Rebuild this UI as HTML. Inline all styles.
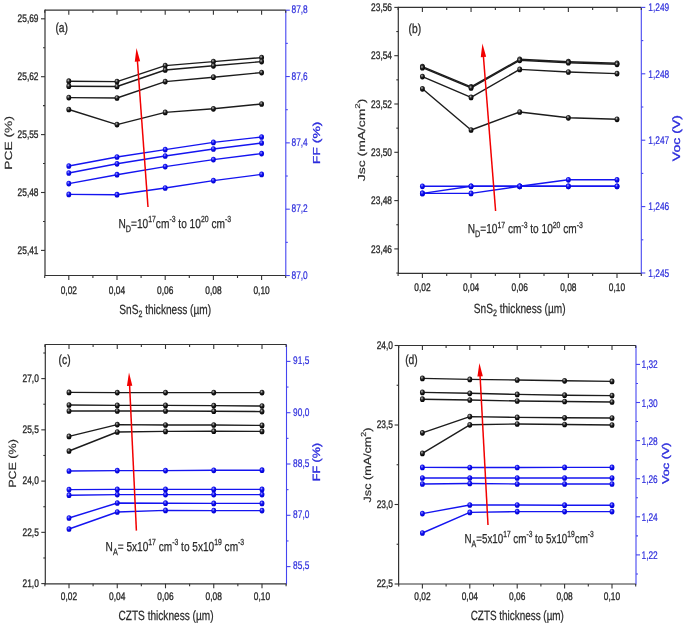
<!DOCTYPE html>
<html><head><meta charset="utf-8"><style>
html,body{margin:0;padding:0;background:#fff;}
svg{display:block;will-change:transform;filter:blur(0.3px);text-rendering:geometricPrecision;font-family:"Liberation Sans",sans-serif;}
</style></head><body>
<svg width="685" height="624" viewBox="0 0 685 624">
<defs>
<radialGradient id="gk" cx="0.4" cy="0.35" r="0.65"><stop offset="0" stop-color="#bbb"/><stop offset="0.45" stop-color="#222"/><stop offset="1" stop-color="#000"/></radialGradient>
<radialGradient id="gb" cx="0.4" cy="0.35" r="0.65"><stop offset="0" stop-color="#9a9aff"/><stop offset="0.45" stop-color="#1010f0"/><stop offset="1" stop-color="#0000d0"/></radialGradient>
</defs>
<rect width="685" height="624" fill="#fff"/>
<line x1="45.00" y1="10.20" x2="285.80" y2="10.20" stroke="#333" stroke-width="1.2"/>
<line x1="45.00" y1="275.50" x2="285.80" y2="275.50" stroke="#333" stroke-width="1.2"/>
<line x1="45.00" y1="9.60" x2="45.00" y2="276.10" stroke="#333" stroke-width="1.2"/>
<line x1="285.80" y1="10.20" x2="285.80" y2="276.10" stroke="#4545f0" stroke-width="1.1"/>
<line x1="68.80" y1="275.50" x2="68.80" y2="280.00" stroke="#333" stroke-width="1.1"/>
<line x1="68.80" y1="10.20" x2="68.80" y2="14.70" stroke="#333" stroke-width="1.1"/>
<line x1="117.00" y1="275.50" x2="117.00" y2="280.00" stroke="#333" stroke-width="1.1"/>
<line x1="117.00" y1="10.20" x2="117.00" y2="14.70" stroke="#333" stroke-width="1.1"/>
<line x1="165.20" y1="275.50" x2="165.20" y2="280.00" stroke="#333" stroke-width="1.1"/>
<line x1="165.20" y1="10.20" x2="165.20" y2="14.70" stroke="#333" stroke-width="1.1"/>
<line x1="213.40" y1="275.50" x2="213.40" y2="280.00" stroke="#333" stroke-width="1.1"/>
<line x1="213.40" y1="10.20" x2="213.40" y2="14.70" stroke="#333" stroke-width="1.1"/>
<line x1="261.60" y1="275.50" x2="261.60" y2="280.00" stroke="#333" stroke-width="1.1"/>
<line x1="261.60" y1="10.20" x2="261.60" y2="14.70" stroke="#333" stroke-width="1.1"/>
<line x1="44.70" y1="275.50" x2="44.70" y2="278.00" stroke="#333" stroke-width="1.1"/>
<line x1="44.70" y1="10.20" x2="44.70" y2="12.70" stroke="#333" stroke-width="1.1"/>
<line x1="92.90" y1="275.50" x2="92.90" y2="278.00" stroke="#333" stroke-width="1.1"/>
<line x1="92.90" y1="10.20" x2="92.90" y2="12.70" stroke="#333" stroke-width="1.1"/>
<line x1="141.10" y1="275.50" x2="141.10" y2="278.00" stroke="#333" stroke-width="1.1"/>
<line x1="141.10" y1="10.20" x2="141.10" y2="12.70" stroke="#333" stroke-width="1.1"/>
<line x1="189.30" y1="275.50" x2="189.30" y2="278.00" stroke="#333" stroke-width="1.1"/>
<line x1="189.30" y1="10.20" x2="189.30" y2="12.70" stroke="#333" stroke-width="1.1"/>
<line x1="237.50" y1="275.50" x2="237.50" y2="278.00" stroke="#333" stroke-width="1.1"/>
<line x1="237.50" y1="10.20" x2="237.50" y2="12.70" stroke="#333" stroke-width="1.1"/>
<line x1="285.70" y1="275.50" x2="285.70" y2="278.00" stroke="#333" stroke-width="1.1"/>
<line x1="285.70" y1="10.20" x2="285.70" y2="12.70" stroke="#333" stroke-width="1.1"/>
<line x1="41.00" y1="18.80" x2="45.00" y2="18.80" stroke="#333" stroke-width="1.1"/>
<text transform="translate(38.50,22.00) scale(0.76,1)" font-size="11" fill="#2a2a2a" text-anchor="end" font-weight="normal" stroke="#2a2a2a" stroke-width="0.35">25,69</text>
<line x1="41.00" y1="76.70" x2="45.00" y2="76.70" stroke="#333" stroke-width="1.1"/>
<text transform="translate(38.50,79.90) scale(0.76,1)" font-size="11" fill="#2a2a2a" text-anchor="end" font-weight="normal" stroke="#2a2a2a" stroke-width="0.35">25,62</text>
<line x1="41.00" y1="134.60" x2="45.00" y2="134.60" stroke="#333" stroke-width="1.1"/>
<text transform="translate(38.50,137.80) scale(0.76,1)" font-size="11" fill="#2a2a2a" text-anchor="end" font-weight="normal" stroke="#2a2a2a" stroke-width="0.35">25,55</text>
<line x1="41.00" y1="192.50" x2="45.00" y2="192.50" stroke="#333" stroke-width="1.1"/>
<text transform="translate(38.50,195.70) scale(0.76,1)" font-size="11" fill="#2a2a2a" text-anchor="end" font-weight="normal" stroke="#2a2a2a" stroke-width="0.35">25,48</text>
<line x1="41.00" y1="250.40" x2="45.00" y2="250.40" stroke="#333" stroke-width="1.1"/>
<text transform="translate(38.50,253.60) scale(0.76,1)" font-size="11" fill="#2a2a2a" text-anchor="end" font-weight="normal" stroke="#2a2a2a" stroke-width="0.35">25,41</text>
<line x1="43.00" y1="47.75" x2="45.00" y2="47.75" stroke="#333" stroke-width="1.1"/>
<line x1="43.00" y1="105.65" x2="45.00" y2="105.65" stroke="#333" stroke-width="1.1"/>
<line x1="43.00" y1="163.55" x2="45.00" y2="163.55" stroke="#333" stroke-width="1.1"/>
<line x1="43.00" y1="221.45" x2="45.00" y2="221.45" stroke="#333" stroke-width="1.1"/>
<line x1="285.80" y1="10.20" x2="289.80" y2="10.20" stroke="#4545f0" stroke-width="1.1"/>
<text transform="translate(291.50,13.40) scale(0.76,1)" font-size="11" fill="#2b2bdc" text-anchor="start" font-weight="normal" stroke="#2b2bdc" stroke-width="0.2">87,8</text>
<line x1="285.80" y1="76.53" x2="289.80" y2="76.53" stroke="#4545f0" stroke-width="1.1"/>
<text transform="translate(291.50,79.73) scale(0.76,1)" font-size="11" fill="#2b2bdc" text-anchor="start" font-weight="normal" stroke="#2b2bdc" stroke-width="0.2">87,6</text>
<line x1="285.80" y1="142.86" x2="289.80" y2="142.86" stroke="#4545f0" stroke-width="1.1"/>
<text transform="translate(291.50,146.06) scale(0.76,1)" font-size="11" fill="#2b2bdc" text-anchor="start" font-weight="normal" stroke="#2b2bdc" stroke-width="0.2">87,4</text>
<line x1="285.80" y1="209.19" x2="289.80" y2="209.19" stroke="#4545f0" stroke-width="1.1"/>
<text transform="translate(291.50,212.39) scale(0.76,1)" font-size="11" fill="#2b2bdc" text-anchor="start" font-weight="normal" stroke="#2b2bdc" stroke-width="0.2">87,2</text>
<line x1="285.80" y1="275.52" x2="289.80" y2="275.52" stroke="#4545f0" stroke-width="1.1"/>
<text transform="translate(291.50,278.72) scale(0.76,1)" font-size="11" fill="#2b2bdc" text-anchor="start" font-weight="normal" stroke="#2b2bdc" stroke-width="0.2">87,0</text>
<line x1="285.80" y1="43.37" x2="287.80" y2="43.37" stroke="#4545f0" stroke-width="1.1"/>
<line x1="285.80" y1="109.69" x2="287.80" y2="109.69" stroke="#4545f0" stroke-width="1.1"/>
<line x1="285.80" y1="176.02" x2="287.80" y2="176.02" stroke="#4545f0" stroke-width="1.1"/>
<line x1="285.80" y1="242.35" x2="287.80" y2="242.35" stroke="#4545f0" stroke-width="1.1"/>
<text transform="translate(68.80,293.70) scale(0.76,1)" font-size="11" fill="#2a2a2a" text-anchor="middle" font-weight="normal" stroke="#2a2a2a" stroke-width="0.35">0,02</text>
<text transform="translate(117.00,293.70) scale(0.76,1)" font-size="11" fill="#2a2a2a" text-anchor="middle" font-weight="normal" stroke="#2a2a2a" stroke-width="0.35">0,04</text>
<text transform="translate(165.20,293.70) scale(0.76,1)" font-size="11" fill="#2a2a2a" text-anchor="middle" font-weight="normal" stroke="#2a2a2a" stroke-width="0.35">0,06</text>
<text transform="translate(213.40,293.70) scale(0.76,1)" font-size="11" fill="#2a2a2a" text-anchor="middle" font-weight="normal" stroke="#2a2a2a" stroke-width="0.35">0,08</text>
<text transform="translate(261.60,293.70) scale(0.76,1)" font-size="11" fill="#2a2a2a" text-anchor="middle" font-weight="normal" stroke="#2a2a2a" stroke-width="0.35">0,10</text>
<text transform="translate(11.80,142.90) scale(0.75,1) rotate(-90)" font-size="13.85" fill="#2a2a2a" text-anchor="middle" font-weight="normal" stroke="#2a2a2a" stroke-width="0.2">PCE (%)</text>
<text transform="translate(319.60,142.90) scale(0.72,1) rotate(-90)" font-size="14.0" fill="#2b2bdc" text-anchor="middle" font-weight="normal" stroke="#2b2bdc" stroke-width="0.4">FF (%)</text>
<text transform="translate(55.40,32.00) scale(0.79,1)" font-size="13" fill="#2a2a2a" text-anchor="start" font-weight="normal" stroke="#2a2a2a" stroke-width="0.3">(a)</text>
<text transform="translate(165.2,314.1) scale(0.76,1)" font-size="13.3" fill="#2a2a2a" stroke="#2a2a2a" stroke-width="0.25" text-anchor="middle">SnS<tspan dy="3" font-size="9.3">2</tspan><tspan dy="-3"> thickness (µm)</tspan></text>
<text transform="translate(118.40,228.20) scale(0.78,1)" font-size="13.0" fill="#2a2a2a" stroke="#2a2a2a" stroke-width="0.25"><tspan dy="0.00" font-size="13.00">N</tspan><tspan dy="3.64" font-size="9.36">D</tspan><tspan dy="-3.64" font-size="13.00">=10</tspan><tspan dy="-5.85" font-size="8.84">17</tspan><tspan dy="5.85" font-size="13.00">cm</tspan><tspan dy="-5.85" font-size="8.84">-3</tspan><tspan dy="5.85" font-size="13.00"> to 10</tspan><tspan dy="-5.85" font-size="8.84">20</tspan><tspan dy="5.85" font-size="13.00"> cm</tspan><tspan dy="-5.85" font-size="8.84">-3</tspan></text>
<polyline points="68.80,81.20 117.00,81.60 165.20,65.60 213.40,61.60 261.60,57.60" fill="none" stroke="#1c1c1c" stroke-width="1.4" stroke-linejoin="round"/>
<ellipse cx="68.80" cy="81.20" rx="2.42" ry="2.85" fill="url(#gk)"/>
<ellipse cx="117.00" cy="81.60" rx="2.42" ry="2.85" fill="url(#gk)"/>
<ellipse cx="165.20" cy="65.60" rx="2.42" ry="2.85" fill="url(#gk)"/>
<ellipse cx="213.40" cy="61.60" rx="2.42" ry="2.85" fill="url(#gk)"/>
<ellipse cx="261.60" cy="57.60" rx="2.42" ry="2.85" fill="url(#gk)"/>
<polyline points="68.80,86.20 117.00,86.50 165.20,70.00 213.40,65.80 261.60,61.60" fill="none" stroke="#1c1c1c" stroke-width="1.4" stroke-linejoin="round"/>
<ellipse cx="68.80" cy="86.20" rx="2.42" ry="2.85" fill="url(#gk)"/>
<ellipse cx="117.00" cy="86.50" rx="2.42" ry="2.85" fill="url(#gk)"/>
<ellipse cx="165.20" cy="70.00" rx="2.42" ry="2.85" fill="url(#gk)"/>
<ellipse cx="213.40" cy="65.80" rx="2.42" ry="2.85" fill="url(#gk)"/>
<ellipse cx="261.60" cy="61.60" rx="2.42" ry="2.85" fill="url(#gk)"/>
<polyline points="68.80,97.60 117.00,98.00 165.20,81.60 213.40,77.20 261.60,72.60" fill="none" stroke="#1c1c1c" stroke-width="1.4" stroke-linejoin="round"/>
<ellipse cx="68.80" cy="97.60" rx="2.42" ry="2.85" fill="url(#gk)"/>
<ellipse cx="117.00" cy="98.00" rx="2.42" ry="2.85" fill="url(#gk)"/>
<ellipse cx="165.20" cy="81.60" rx="2.42" ry="2.85" fill="url(#gk)"/>
<ellipse cx="213.40" cy="77.20" rx="2.42" ry="2.85" fill="url(#gk)"/>
<ellipse cx="261.60" cy="72.60" rx="2.42" ry="2.85" fill="url(#gk)"/>
<polyline points="68.80,109.50 117.00,124.60 165.20,112.40 213.40,108.80 261.60,104.00" fill="none" stroke="#1c1c1c" stroke-width="1.4" stroke-linejoin="round"/>
<ellipse cx="68.80" cy="109.50" rx="2.42" ry="2.85" fill="url(#gk)"/>
<ellipse cx="117.00" cy="124.60" rx="2.42" ry="2.85" fill="url(#gk)"/>
<ellipse cx="165.20" cy="112.40" rx="2.42" ry="2.85" fill="url(#gk)"/>
<ellipse cx="213.40" cy="108.80" rx="2.42" ry="2.85" fill="url(#gk)"/>
<ellipse cx="261.60" cy="104.00" rx="2.42" ry="2.85" fill="url(#gk)"/>
<polyline points="68.80,166.00 117.00,157.00 165.20,149.60 213.40,142.40 261.60,137.00" fill="none" stroke="#1414f0" stroke-width="1.4" stroke-linejoin="round"/>
<ellipse cx="68.80" cy="166.00" rx="2.42" ry="2.85" fill="url(#gb)"/>
<ellipse cx="117.00" cy="157.00" rx="2.42" ry="2.85" fill="url(#gb)"/>
<ellipse cx="165.20" cy="149.60" rx="2.42" ry="2.85" fill="url(#gb)"/>
<ellipse cx="213.40" cy="142.40" rx="2.42" ry="2.85" fill="url(#gb)"/>
<ellipse cx="261.60" cy="137.00" rx="2.42" ry="2.85" fill="url(#gb)"/>
<polyline points="68.80,173.00 117.00,163.80 165.20,156.00 213.40,149.00 261.60,143.00" fill="none" stroke="#1414f0" stroke-width="1.4" stroke-linejoin="round"/>
<ellipse cx="68.80" cy="173.00" rx="2.42" ry="2.85" fill="url(#gb)"/>
<ellipse cx="117.00" cy="163.80" rx="2.42" ry="2.85" fill="url(#gb)"/>
<ellipse cx="165.20" cy="156.00" rx="2.42" ry="2.85" fill="url(#gb)"/>
<ellipse cx="213.40" cy="149.00" rx="2.42" ry="2.85" fill="url(#gb)"/>
<ellipse cx="261.60" cy="143.00" rx="2.42" ry="2.85" fill="url(#gb)"/>
<polyline points="68.80,183.60 117.00,174.70 165.20,166.60 213.40,159.60 261.60,153.60" fill="none" stroke="#1414f0" stroke-width="1.4" stroke-linejoin="round"/>
<ellipse cx="68.80" cy="183.60" rx="2.42" ry="2.85" fill="url(#gb)"/>
<ellipse cx="117.00" cy="174.70" rx="2.42" ry="2.85" fill="url(#gb)"/>
<ellipse cx="165.20" cy="166.60" rx="2.42" ry="2.85" fill="url(#gb)"/>
<ellipse cx="213.40" cy="159.60" rx="2.42" ry="2.85" fill="url(#gb)"/>
<ellipse cx="261.60" cy="153.60" rx="2.42" ry="2.85" fill="url(#gb)"/>
<polyline points="68.80,194.40 117.00,194.70 165.20,188.00 213.40,180.60 261.60,174.40" fill="none" stroke="#1414f0" stroke-width="1.4" stroke-linejoin="round"/>
<ellipse cx="68.80" cy="194.40" rx="2.42" ry="2.85" fill="url(#gb)"/>
<ellipse cx="117.00" cy="194.70" rx="2.42" ry="2.85" fill="url(#gb)"/>
<ellipse cx="165.20" cy="188.00" rx="2.42" ry="2.85" fill="url(#gb)"/>
<ellipse cx="213.40" cy="180.60" rx="2.42" ry="2.85" fill="url(#gb)"/>
<ellipse cx="261.60" cy="174.40" rx="2.42" ry="2.85" fill="url(#gb)"/>
<line x1="148.00" y1="207.00" x2="137.40" y2="60.57" stroke="#f20000" stroke-width="1.5"/>
<polygon points="136.50,48.10 140.17,61.37 134.78,61.76" fill="#f20000"/>
<line x1="398.30" y1="7.40" x2="641.30" y2="7.40" stroke="#333" stroke-width="1.2"/>
<line x1="398.30" y1="273.40" x2="641.30" y2="273.40" stroke="#333" stroke-width="1.2"/>
<line x1="398.30" y1="6.80" x2="398.30" y2="274.00" stroke="#333" stroke-width="1.2"/>
<line x1="641.30" y1="7.40" x2="641.30" y2="274.00" stroke="#4545f0" stroke-width="1.1"/>
<line x1="422.40" y1="273.40" x2="422.40" y2="277.90" stroke="#333" stroke-width="1.1"/>
<line x1="422.40" y1="7.40" x2="422.40" y2="11.90" stroke="#333" stroke-width="1.1"/>
<line x1="471.05" y1="273.40" x2="471.05" y2="277.90" stroke="#333" stroke-width="1.1"/>
<line x1="471.05" y1="7.40" x2="471.05" y2="11.90" stroke="#333" stroke-width="1.1"/>
<line x1="519.70" y1="273.40" x2="519.70" y2="277.90" stroke="#333" stroke-width="1.1"/>
<line x1="519.70" y1="7.40" x2="519.70" y2="11.90" stroke="#333" stroke-width="1.1"/>
<line x1="568.35" y1="273.40" x2="568.35" y2="277.90" stroke="#333" stroke-width="1.1"/>
<line x1="568.35" y1="7.40" x2="568.35" y2="11.90" stroke="#333" stroke-width="1.1"/>
<line x1="617.00" y1="273.40" x2="617.00" y2="277.90" stroke="#333" stroke-width="1.1"/>
<line x1="617.00" y1="7.40" x2="617.00" y2="11.90" stroke="#333" stroke-width="1.1"/>
<line x1="398.10" y1="273.40" x2="398.10" y2="275.90" stroke="#333" stroke-width="1.1"/>
<line x1="398.10" y1="7.40" x2="398.10" y2="9.90" stroke="#333" stroke-width="1.1"/>
<line x1="446.70" y1="273.40" x2="446.70" y2="275.90" stroke="#333" stroke-width="1.1"/>
<line x1="446.70" y1="7.40" x2="446.70" y2="9.90" stroke="#333" stroke-width="1.1"/>
<line x1="495.35" y1="273.40" x2="495.35" y2="275.90" stroke="#333" stroke-width="1.1"/>
<line x1="495.35" y1="7.40" x2="495.35" y2="9.90" stroke="#333" stroke-width="1.1"/>
<line x1="544.00" y1="273.40" x2="544.00" y2="275.90" stroke="#333" stroke-width="1.1"/>
<line x1="544.00" y1="7.40" x2="544.00" y2="9.90" stroke="#333" stroke-width="1.1"/>
<line x1="592.65" y1="273.40" x2="592.65" y2="275.90" stroke="#333" stroke-width="1.1"/>
<line x1="592.65" y1="7.40" x2="592.65" y2="9.90" stroke="#333" stroke-width="1.1"/>
<line x1="641.30" y1="273.40" x2="641.30" y2="275.90" stroke="#333" stroke-width="1.1"/>
<line x1="641.30" y1="7.40" x2="641.30" y2="9.90" stroke="#333" stroke-width="1.1"/>
<line x1="394.30" y1="7.40" x2="398.30" y2="7.40" stroke="#333" stroke-width="1.1"/>
<text transform="translate(392.00,11.10) scale(0.76,1)" font-size="11" fill="#2a2a2a" text-anchor="end" font-weight="normal" stroke="#2a2a2a" stroke-width="0.35">23,56</text>
<line x1="394.30" y1="55.70" x2="398.30" y2="55.70" stroke="#333" stroke-width="1.1"/>
<text transform="translate(392.00,59.40) scale(0.76,1)" font-size="11" fill="#2a2a2a" text-anchor="end" font-weight="normal" stroke="#2a2a2a" stroke-width="0.35">23,54</text>
<line x1="394.30" y1="104.00" x2="398.30" y2="104.00" stroke="#333" stroke-width="1.1"/>
<text transform="translate(392.00,107.70) scale(0.76,1)" font-size="11" fill="#2a2a2a" text-anchor="end" font-weight="normal" stroke="#2a2a2a" stroke-width="0.35">23,52</text>
<line x1="394.30" y1="152.30" x2="398.30" y2="152.30" stroke="#333" stroke-width="1.1"/>
<text transform="translate(392.00,156.00) scale(0.76,1)" font-size="11" fill="#2a2a2a" text-anchor="end" font-weight="normal" stroke="#2a2a2a" stroke-width="0.35">23,50</text>
<line x1="394.30" y1="200.60" x2="398.30" y2="200.60" stroke="#333" stroke-width="1.1"/>
<text transform="translate(392.00,204.30) scale(0.76,1)" font-size="11" fill="#2a2a2a" text-anchor="end" font-weight="normal" stroke="#2a2a2a" stroke-width="0.35">23,48</text>
<line x1="394.30" y1="248.90" x2="398.30" y2="248.90" stroke="#333" stroke-width="1.1"/>
<text transform="translate(392.00,252.60) scale(0.76,1)" font-size="11" fill="#2a2a2a" text-anchor="end" font-weight="normal" stroke="#2a2a2a" stroke-width="0.35">23,46</text>
<line x1="396.30" y1="31.55" x2="398.30" y2="31.55" stroke="#333" stroke-width="1.1"/>
<line x1="396.30" y1="79.85" x2="398.30" y2="79.85" stroke="#333" stroke-width="1.1"/>
<line x1="396.30" y1="128.15" x2="398.30" y2="128.15" stroke="#333" stroke-width="1.1"/>
<line x1="396.30" y1="176.45" x2="398.30" y2="176.45" stroke="#333" stroke-width="1.1"/>
<line x1="396.30" y1="224.75" x2="398.30" y2="224.75" stroke="#333" stroke-width="1.1"/>
<line x1="396.30" y1="273.05" x2="398.30" y2="273.05" stroke="#333" stroke-width="1.1"/>
<line x1="641.30" y1="7.40" x2="645.30" y2="7.40" stroke="#4545f0" stroke-width="1.1"/>
<text transform="translate(648.30,11.10) scale(0.76,1)" font-size="11" fill="#2b2bdc" text-anchor="start" font-weight="normal" stroke="#2b2bdc" stroke-width="0.2">1,249</text>
<line x1="641.30" y1="73.80" x2="645.30" y2="73.80" stroke="#4545f0" stroke-width="1.1"/>
<text transform="translate(648.30,77.50) scale(0.76,1)" font-size="11" fill="#2b2bdc" text-anchor="start" font-weight="normal" stroke="#2b2bdc" stroke-width="0.2">1,248</text>
<line x1="641.30" y1="140.20" x2="645.30" y2="140.20" stroke="#4545f0" stroke-width="1.1"/>
<text transform="translate(648.30,143.90) scale(0.76,1)" font-size="11" fill="#2b2bdc" text-anchor="start" font-weight="normal" stroke="#2b2bdc" stroke-width="0.2">1,247</text>
<line x1="641.30" y1="206.60" x2="645.30" y2="206.60" stroke="#4545f0" stroke-width="1.1"/>
<text transform="translate(648.30,210.30) scale(0.76,1)" font-size="11" fill="#2b2bdc" text-anchor="start" font-weight="normal" stroke="#2b2bdc" stroke-width="0.2">1,246</text>
<line x1="641.30" y1="273.00" x2="645.30" y2="273.00" stroke="#4545f0" stroke-width="1.1"/>
<text transform="translate(648.30,276.70) scale(0.76,1)" font-size="11" fill="#2b2bdc" text-anchor="start" font-weight="normal" stroke="#2b2bdc" stroke-width="0.2">1,245</text>
<line x1="641.30" y1="40.60" x2="643.30" y2="40.60" stroke="#4545f0" stroke-width="1.1"/>
<line x1="641.30" y1="107.00" x2="643.30" y2="107.00" stroke="#4545f0" stroke-width="1.1"/>
<line x1="641.30" y1="173.40" x2="643.30" y2="173.40" stroke="#4545f0" stroke-width="1.1"/>
<line x1="641.30" y1="239.80" x2="643.30" y2="239.80" stroke="#4545f0" stroke-width="1.1"/>
<text transform="translate(422.40,291.00) scale(0.76,1)" font-size="11" fill="#2a2a2a" text-anchor="middle" font-weight="normal" stroke="#2a2a2a" stroke-width="0.35">0,02</text>
<text transform="translate(471.05,291.00) scale(0.76,1)" font-size="11" fill="#2a2a2a" text-anchor="middle" font-weight="normal" stroke="#2a2a2a" stroke-width="0.35">0,04</text>
<text transform="translate(519.70,291.00) scale(0.76,1)" font-size="11" fill="#2a2a2a" text-anchor="middle" font-weight="normal" stroke="#2a2a2a" stroke-width="0.35">0,06</text>
<text transform="translate(568.35,291.00) scale(0.76,1)" font-size="11" fill="#2a2a2a" text-anchor="middle" font-weight="normal" stroke="#2a2a2a" stroke-width="0.35">0,08</text>
<text transform="translate(617.00,291.00) scale(0.76,1)" font-size="11" fill="#2a2a2a" text-anchor="middle" font-weight="normal" stroke="#2a2a2a" stroke-width="0.35">0,10</text>
<text transform="translate(365.10,139.90) scale(0.73,1) rotate(-90)" font-size="13.9" fill="#2a2a2a" text-anchor="middle" font-weight="normal" stroke="#2a2a2a" stroke-width="0.2">Jsc (mA/cm<tspan dy="-7.0" font-size="9.7">2</tspan><tspan dy="7.0">)</tspan></text>
<text transform="translate(680.20,138.10) scale(0.76,1) rotate(-90)" font-size="14.1" fill="#2b2bdc" text-anchor="middle" font-weight="normal" stroke="#2b2bdc" stroke-width="0.4">Voc (V)</text>
<text transform="translate(408.60,33.20) scale(0.79,1)" font-size="13" fill="#2a2a2a" text-anchor="start" font-weight="normal" stroke="#2a2a2a" stroke-width="0.3">(b)</text>
<text transform="translate(519.7,313.0) scale(0.76,1)" font-size="13.3" fill="#2a2a2a" stroke="#2a2a2a" stroke-width="0.25" text-anchor="middle">SnS<tspan dy="3" font-size="9.3">2</tspan><tspan dy="-3"> thickness (µm)</tspan></text>
<text transform="translate(467.80,233.40) scale(0.777,1)" font-size="13.0" fill="#2a2a2a" stroke="#2a2a2a" stroke-width="0.25"><tspan dy="0.00" font-size="13.00">N</tspan><tspan dy="3.64" font-size="9.36">D</tspan><tspan dy="-3.64" font-size="13.00">=10</tspan><tspan dy="-5.85" font-size="8.84">17</tspan><tspan dy="5.85" font-size="13.00"> cm</tspan><tspan dy="-5.85" font-size="8.84">-3</tspan><tspan dy="5.85" font-size="13.00"> to 10</tspan><tspan dy="-5.85" font-size="8.84">20</tspan><tspan dy="5.85" font-size="13.00"> cm</tspan><tspan dy="-5.85" font-size="8.84">-3</tspan></text>
<polyline points="422.40,66.70 471.05,86.90 519.70,59.30 568.35,61.70 617.00,63.30" fill="none" stroke="#1c1c1c" stroke-width="1.4" stroke-linejoin="round"/>
<ellipse cx="422.40" cy="66.70" rx="2.42" ry="2.85" fill="url(#gk)"/>
<ellipse cx="471.05" cy="86.90" rx="2.42" ry="2.85" fill="url(#gk)"/>
<ellipse cx="519.70" cy="59.30" rx="2.42" ry="2.85" fill="url(#gk)"/>
<ellipse cx="568.35" cy="61.70" rx="2.42" ry="2.85" fill="url(#gk)"/>
<ellipse cx="617.00" cy="63.30" rx="2.42" ry="2.85" fill="url(#gk)"/>
<polyline points="422.40,67.70 471.05,87.90 519.70,60.30 568.35,62.70 617.00,64.30" fill="none" stroke="#1c1c1c" stroke-width="1.4" stroke-linejoin="round"/>
<ellipse cx="422.40" cy="67.70" rx="2.42" ry="2.85" fill="url(#gk)"/>
<ellipse cx="471.05" cy="87.90" rx="2.42" ry="2.85" fill="url(#gk)"/>
<ellipse cx="519.70" cy="60.30" rx="2.42" ry="2.85" fill="url(#gk)"/>
<ellipse cx="568.35" cy="62.70" rx="2.42" ry="2.85" fill="url(#gk)"/>
<ellipse cx="617.00" cy="64.30" rx="2.42" ry="2.85" fill="url(#gk)"/>
<polyline points="422.40,76.60 471.05,97.40 519.70,69.40 568.35,72.00 617.00,73.60" fill="none" stroke="#1c1c1c" stroke-width="1.4" stroke-linejoin="round"/>
<ellipse cx="422.40" cy="76.60" rx="2.42" ry="2.85" fill="url(#gk)"/>
<ellipse cx="471.05" cy="97.40" rx="2.42" ry="2.85" fill="url(#gk)"/>
<ellipse cx="519.70" cy="69.40" rx="2.42" ry="2.85" fill="url(#gk)"/>
<ellipse cx="568.35" cy="72.00" rx="2.42" ry="2.85" fill="url(#gk)"/>
<ellipse cx="617.00" cy="73.60" rx="2.42" ry="2.85" fill="url(#gk)"/>
<polyline points="422.40,88.80 471.05,130.00 519.70,112.00 568.35,117.80 617.00,119.30" fill="none" stroke="#1c1c1c" stroke-width="1.4" stroke-linejoin="round"/>
<ellipse cx="422.40" cy="88.80" rx="2.42" ry="2.85" fill="url(#gk)"/>
<ellipse cx="471.05" cy="130.00" rx="2.42" ry="2.85" fill="url(#gk)"/>
<ellipse cx="519.70" cy="112.00" rx="2.42" ry="2.85" fill="url(#gk)"/>
<ellipse cx="568.35" cy="117.80" rx="2.42" ry="2.85" fill="url(#gk)"/>
<ellipse cx="617.00" cy="119.30" rx="2.42" ry="2.85" fill="url(#gk)"/>
<polyline points="422.40,186.30 471.05,186.30 519.70,186.30 568.35,186.30 617.00,186.30" fill="none" stroke="#1414f0" stroke-width="1.4" stroke-linejoin="round"/>
<ellipse cx="422.40" cy="186.30" rx="2.42" ry="2.85" fill="url(#gb)"/>
<ellipse cx="471.05" cy="186.30" rx="2.42" ry="2.85" fill="url(#gb)"/>
<ellipse cx="519.70" cy="186.30" rx="2.42" ry="2.85" fill="url(#gb)"/>
<ellipse cx="568.35" cy="186.30" rx="2.42" ry="2.85" fill="url(#gb)"/>
<ellipse cx="617.00" cy="186.30" rx="2.42" ry="2.85" fill="url(#gb)"/>
<polyline points="422.40,193.40 471.05,186.30 519.70,186.30 568.35,186.30 617.00,186.30" fill="none" stroke="#1414f0" stroke-width="1.4" stroke-linejoin="round"/>
<ellipse cx="422.40" cy="193.40" rx="2.42" ry="2.85" fill="url(#gb)"/>
<ellipse cx="471.05" cy="186.30" rx="2.42" ry="2.85" fill="url(#gb)"/>
<ellipse cx="519.70" cy="186.30" rx="2.42" ry="2.85" fill="url(#gb)"/>
<ellipse cx="568.35" cy="186.30" rx="2.42" ry="2.85" fill="url(#gb)"/>
<ellipse cx="617.00" cy="186.30" rx="2.42" ry="2.85" fill="url(#gb)"/>
<polyline points="422.40,193.40 471.05,193.40 519.70,186.30 568.35,179.80 617.00,179.80" fill="none" stroke="#1414f0" stroke-width="1.4" stroke-linejoin="round"/>
<ellipse cx="422.40" cy="193.40" rx="2.42" ry="2.85" fill="url(#gb)"/>
<ellipse cx="471.05" cy="193.40" rx="2.42" ry="2.85" fill="url(#gb)"/>
<ellipse cx="519.70" cy="186.30" rx="2.42" ry="2.85" fill="url(#gb)"/>
<ellipse cx="568.35" cy="179.80" rx="2.42" ry="2.85" fill="url(#gb)"/>
<ellipse cx="617.00" cy="179.80" rx="2.42" ry="2.85" fill="url(#gb)"/>
<line x1="495.60" y1="211.00" x2="483.38" y2="56.06" stroke="#f20000" stroke-width="1.5"/>
<polygon points="482.40,43.60 486.15,56.85 480.77,57.27" fill="#f20000"/>
<line x1="45.30" y1="344.50" x2="286.50" y2="344.50" stroke="#333" stroke-width="1.2"/>
<line x1="45.30" y1="583.80" x2="286.50" y2="583.80" stroke="#333" stroke-width="1.2"/>
<line x1="45.30" y1="343.90" x2="45.30" y2="584.40" stroke="#333" stroke-width="1.2"/>
<line x1="286.50" y1="344.50" x2="286.50" y2="584.40" stroke="#4545f0" stroke-width="1.1"/>
<line x1="69.00" y1="583.80" x2="69.00" y2="588.30" stroke="#333" stroke-width="1.1"/>
<line x1="69.00" y1="344.50" x2="69.00" y2="349.00" stroke="#333" stroke-width="1.1"/>
<line x1="117.25" y1="583.80" x2="117.25" y2="588.30" stroke="#333" stroke-width="1.1"/>
<line x1="117.25" y1="344.50" x2="117.25" y2="349.00" stroke="#333" stroke-width="1.1"/>
<line x1="165.50" y1="583.80" x2="165.50" y2="588.30" stroke="#333" stroke-width="1.1"/>
<line x1="165.50" y1="344.50" x2="165.50" y2="349.00" stroke="#333" stroke-width="1.1"/>
<line x1="213.75" y1="583.80" x2="213.75" y2="588.30" stroke="#333" stroke-width="1.1"/>
<line x1="213.75" y1="344.50" x2="213.75" y2="349.00" stroke="#333" stroke-width="1.1"/>
<line x1="262.00" y1="583.80" x2="262.00" y2="588.30" stroke="#333" stroke-width="1.1"/>
<line x1="262.00" y1="344.50" x2="262.00" y2="349.00" stroke="#333" stroke-width="1.1"/>
<line x1="44.90" y1="583.80" x2="44.90" y2="586.30" stroke="#333" stroke-width="1.1"/>
<line x1="44.90" y1="344.50" x2="44.90" y2="347.00" stroke="#333" stroke-width="1.1"/>
<line x1="93.10" y1="583.80" x2="93.10" y2="586.30" stroke="#333" stroke-width="1.1"/>
<line x1="93.10" y1="344.50" x2="93.10" y2="347.00" stroke="#333" stroke-width="1.1"/>
<line x1="141.35" y1="583.80" x2="141.35" y2="586.30" stroke="#333" stroke-width="1.1"/>
<line x1="141.35" y1="344.50" x2="141.35" y2="347.00" stroke="#333" stroke-width="1.1"/>
<line x1="189.60" y1="583.80" x2="189.60" y2="586.30" stroke="#333" stroke-width="1.1"/>
<line x1="189.60" y1="344.50" x2="189.60" y2="347.00" stroke="#333" stroke-width="1.1"/>
<line x1="237.85" y1="583.80" x2="237.85" y2="586.30" stroke="#333" stroke-width="1.1"/>
<line x1="237.85" y1="344.50" x2="237.85" y2="347.00" stroke="#333" stroke-width="1.1"/>
<line x1="286.10" y1="583.80" x2="286.10" y2="586.30" stroke="#333" stroke-width="1.1"/>
<line x1="286.10" y1="344.50" x2="286.10" y2="347.00" stroke="#333" stroke-width="1.1"/>
<line x1="41.30" y1="378.60" x2="45.30" y2="378.60" stroke="#333" stroke-width="1.1"/>
<text transform="translate(38.80,381.80) scale(0.76,1)" font-size="11" fill="#2a2a2a" text-anchor="end" font-weight="normal" stroke="#2a2a2a" stroke-width="0.35">27,0</text>
<line x1="41.30" y1="429.85" x2="45.30" y2="429.85" stroke="#333" stroke-width="1.1"/>
<text transform="translate(38.80,433.05) scale(0.76,1)" font-size="11" fill="#2a2a2a" text-anchor="end" font-weight="normal" stroke="#2a2a2a" stroke-width="0.35">25,5</text>
<line x1="41.30" y1="481.10" x2="45.30" y2="481.10" stroke="#333" stroke-width="1.1"/>
<text transform="translate(38.80,484.30) scale(0.76,1)" font-size="11" fill="#2a2a2a" text-anchor="end" font-weight="normal" stroke="#2a2a2a" stroke-width="0.35">24,0</text>
<line x1="41.30" y1="532.35" x2="45.30" y2="532.35" stroke="#333" stroke-width="1.1"/>
<text transform="translate(38.80,535.55) scale(0.76,1)" font-size="11" fill="#2a2a2a" text-anchor="end" font-weight="normal" stroke="#2a2a2a" stroke-width="0.35">22,5</text>
<line x1="41.30" y1="583.60" x2="45.30" y2="583.60" stroke="#333" stroke-width="1.1"/>
<text transform="translate(38.80,586.80) scale(0.76,1)" font-size="11" fill="#2a2a2a" text-anchor="end" font-weight="normal" stroke="#2a2a2a" stroke-width="0.35">21,0</text>
<line x1="43.30" y1="353.00" x2="45.30" y2="353.00" stroke="#333" stroke-width="1.1"/>
<line x1="43.30" y1="404.23" x2="45.30" y2="404.23" stroke="#333" stroke-width="1.1"/>
<line x1="43.30" y1="455.48" x2="45.30" y2="455.48" stroke="#333" stroke-width="1.1"/>
<line x1="43.30" y1="506.73" x2="45.30" y2="506.73" stroke="#333" stroke-width="1.1"/>
<line x1="43.30" y1="557.98" x2="45.30" y2="557.98" stroke="#333" stroke-width="1.1"/>
<line x1="286.50" y1="361.40" x2="290.50" y2="361.40" stroke="#4545f0" stroke-width="1.1"/>
<text transform="translate(293.10,364.20) scale(0.76,1)" font-size="11" fill="#2b2bdc" text-anchor="start" font-weight="normal" stroke="#2b2bdc" stroke-width="0.2">91,5</text>
<line x1="286.50" y1="412.70" x2="290.50" y2="412.70" stroke="#4545f0" stroke-width="1.1"/>
<text transform="translate(293.10,415.50) scale(0.76,1)" font-size="11" fill="#2b2bdc" text-anchor="start" font-weight="normal" stroke="#2b2bdc" stroke-width="0.2">90,0</text>
<line x1="286.50" y1="464.00" x2="290.50" y2="464.00" stroke="#4545f0" stroke-width="1.1"/>
<text transform="translate(293.10,466.80) scale(0.76,1)" font-size="11" fill="#2b2bdc" text-anchor="start" font-weight="normal" stroke="#2b2bdc" stroke-width="0.2">88,5</text>
<line x1="286.50" y1="515.30" x2="290.50" y2="515.30" stroke="#4545f0" stroke-width="1.1"/>
<text transform="translate(293.10,518.10) scale(0.76,1)" font-size="11" fill="#2b2bdc" text-anchor="start" font-weight="normal" stroke="#2b2bdc" stroke-width="0.2">87,0</text>
<line x1="286.50" y1="566.60" x2="290.50" y2="566.60" stroke="#4545f0" stroke-width="1.1"/>
<text transform="translate(293.10,569.40) scale(0.76,1)" font-size="11" fill="#2b2bdc" text-anchor="start" font-weight="normal" stroke="#2b2bdc" stroke-width="0.2">85,5</text>
<line x1="286.50" y1="387.05" x2="288.50" y2="387.05" stroke="#4545f0" stroke-width="1.1"/>
<line x1="286.50" y1="438.35" x2="288.50" y2="438.35" stroke="#4545f0" stroke-width="1.1"/>
<line x1="286.50" y1="489.65" x2="288.50" y2="489.65" stroke="#4545f0" stroke-width="1.1"/>
<line x1="286.50" y1="540.95" x2="288.50" y2="540.95" stroke="#4545f0" stroke-width="1.1"/>
<text transform="translate(69.00,600.10) scale(0.76,1)" font-size="11" fill="#2a2a2a" text-anchor="middle" font-weight="normal" stroke="#2a2a2a" stroke-width="0.35">0,02</text>
<text transform="translate(117.25,600.10) scale(0.76,1)" font-size="11" fill="#2a2a2a" text-anchor="middle" font-weight="normal" stroke="#2a2a2a" stroke-width="0.35">0,04</text>
<text transform="translate(165.50,600.10) scale(0.76,1)" font-size="11" fill="#2a2a2a" text-anchor="middle" font-weight="normal" stroke="#2a2a2a" stroke-width="0.35">0,06</text>
<text transform="translate(213.75,600.10) scale(0.76,1)" font-size="11" fill="#2a2a2a" text-anchor="middle" font-weight="normal" stroke="#2a2a2a" stroke-width="0.35">0,08</text>
<text transform="translate(262.00,600.10) scale(0.76,1)" font-size="11" fill="#2a2a2a" text-anchor="middle" font-weight="normal" stroke="#2a2a2a" stroke-width="0.35">0,10</text>
<text transform="translate(16.00,463.50) scale(0.83,1) rotate(-90)" font-size="12.5" fill="#2a2a2a" text-anchor="middle" font-weight="normal" stroke="#2a2a2a" stroke-width="0.2">PCE (%)</text>
<text transform="translate(319.70,462.10) scale(0.84,1) rotate(-90)" font-size="12.55" fill="#2b2bdc" text-anchor="middle" font-weight="normal" stroke="#2b2bdc" stroke-width="0.4">FF (%)</text>
<text transform="translate(58.60,363.60) scale(0.79,1)" font-size="13" fill="#2a2a2a" text-anchor="start" font-weight="normal" stroke="#2a2a2a" stroke-width="0.3">(c)</text>
<text transform="translate(166,619.5) scale(0.76,1)" font-size="13.3" fill="#2a2a2a" stroke="#2a2a2a" stroke-width="0.25" text-anchor="middle">CZTS thickness (µm)</text>
<text transform="translate(105.60,551.00) scale(0.776,1)" font-size="13.0" fill="#2a2a2a" stroke="#2a2a2a" stroke-width="0.25"><tspan dy="0.00" font-size="13.00">N</tspan><tspan dy="3.64" font-size="9.36">A</tspan><tspan dy="-3.64" font-size="13.00">= 5x10</tspan><tspan dy="-5.85" font-size="8.84">17</tspan><tspan dy="5.85" font-size="13.00"> cm</tspan><tspan dy="-5.85" font-size="8.84">-3</tspan><tspan dy="5.85" font-size="13.00"> to 5x10</tspan><tspan dy="-5.85" font-size="8.84">19</tspan><tspan dy="5.85" font-size="13.00"> cm</tspan><tspan dy="-5.85" font-size="8.84">-3</tspan></text>
<polyline points="69.00,392.40 117.25,392.60 165.50,392.60 213.75,392.60 262.00,392.60" fill="none" stroke="#1c1c1c" stroke-width="1.4" stroke-linejoin="round"/>
<ellipse cx="69.00" cy="392.40" rx="2.42" ry="2.85" fill="url(#gk)"/>
<ellipse cx="117.25" cy="392.60" rx="2.42" ry="2.85" fill="url(#gk)"/>
<ellipse cx="165.50" cy="392.60" rx="2.42" ry="2.85" fill="url(#gk)"/>
<ellipse cx="213.75" cy="392.60" rx="2.42" ry="2.85" fill="url(#gk)"/>
<ellipse cx="262.00" cy="392.60" rx="2.42" ry="2.85" fill="url(#gk)"/>
<polyline points="69.00,405.00 117.25,405.40 165.50,405.40 213.75,405.60 262.00,406.00" fill="none" stroke="#1c1c1c" stroke-width="1.4" stroke-linejoin="round"/>
<ellipse cx="69.00" cy="405.00" rx="2.42" ry="2.85" fill="url(#gk)"/>
<ellipse cx="117.25" cy="405.40" rx="2.42" ry="2.85" fill="url(#gk)"/>
<ellipse cx="165.50" cy="405.40" rx="2.42" ry="2.85" fill="url(#gk)"/>
<ellipse cx="213.75" cy="405.60" rx="2.42" ry="2.85" fill="url(#gk)"/>
<ellipse cx="262.00" cy="406.00" rx="2.42" ry="2.85" fill="url(#gk)"/>
<polyline points="69.00,411.00 117.25,411.00 165.50,411.00 213.75,411.20 262.00,411.60" fill="none" stroke="#1c1c1c" stroke-width="1.4" stroke-linejoin="round"/>
<ellipse cx="69.00" cy="411.00" rx="2.42" ry="2.85" fill="url(#gk)"/>
<ellipse cx="117.25" cy="411.00" rx="2.42" ry="2.85" fill="url(#gk)"/>
<ellipse cx="165.50" cy="411.00" rx="2.42" ry="2.85" fill="url(#gk)"/>
<ellipse cx="213.75" cy="411.20" rx="2.42" ry="2.85" fill="url(#gk)"/>
<ellipse cx="262.00" cy="411.60" rx="2.42" ry="2.85" fill="url(#gk)"/>
<polyline points="69.00,436.40 117.25,424.60 165.50,425.00 213.75,425.00 262.00,425.40" fill="none" stroke="#1c1c1c" stroke-width="1.4" stroke-linejoin="round"/>
<ellipse cx="69.00" cy="436.40" rx="2.42" ry="2.85" fill="url(#gk)"/>
<ellipse cx="117.25" cy="424.60" rx="2.42" ry="2.85" fill="url(#gk)"/>
<ellipse cx="165.50" cy="425.00" rx="2.42" ry="2.85" fill="url(#gk)"/>
<ellipse cx="213.75" cy="425.00" rx="2.42" ry="2.85" fill="url(#gk)"/>
<ellipse cx="262.00" cy="425.40" rx="2.42" ry="2.85" fill="url(#gk)"/>
<polyline points="69.00,451.00 117.25,432.00 165.50,431.40 213.75,431.20 262.00,431.40" fill="none" stroke="#1c1c1c" stroke-width="1.4" stroke-linejoin="round"/>
<ellipse cx="69.00" cy="451.00" rx="2.42" ry="2.85" fill="url(#gk)"/>
<ellipse cx="117.25" cy="432.00" rx="2.42" ry="2.85" fill="url(#gk)"/>
<ellipse cx="165.50" cy="431.40" rx="2.42" ry="2.85" fill="url(#gk)"/>
<ellipse cx="213.75" cy="431.20" rx="2.42" ry="2.85" fill="url(#gk)"/>
<ellipse cx="262.00" cy="431.40" rx="2.42" ry="2.85" fill="url(#gk)"/>
<polyline points="69.00,471.00 117.25,470.60 165.50,470.60 213.75,470.30 262.00,470.20" fill="none" stroke="#1414f0" stroke-width="1.4" stroke-linejoin="round"/>
<ellipse cx="69.00" cy="471.00" rx="2.42" ry="2.85" fill="url(#gb)"/>
<ellipse cx="117.25" cy="470.60" rx="2.42" ry="2.85" fill="url(#gb)"/>
<ellipse cx="165.50" cy="470.60" rx="2.42" ry="2.85" fill="url(#gb)"/>
<ellipse cx="213.75" cy="470.30" rx="2.42" ry="2.85" fill="url(#gb)"/>
<ellipse cx="262.00" cy="470.20" rx="2.42" ry="2.85" fill="url(#gb)"/>
<polyline points="69.00,489.60 117.25,489.40 165.50,489.40 213.75,489.40 262.00,489.40" fill="none" stroke="#1414f0" stroke-width="1.4" stroke-linejoin="round"/>
<ellipse cx="69.00" cy="489.60" rx="2.42" ry="2.85" fill="url(#gb)"/>
<ellipse cx="117.25" cy="489.40" rx="2.42" ry="2.85" fill="url(#gb)"/>
<ellipse cx="165.50" cy="489.40" rx="2.42" ry="2.85" fill="url(#gb)"/>
<ellipse cx="213.75" cy="489.40" rx="2.42" ry="2.85" fill="url(#gb)"/>
<ellipse cx="262.00" cy="489.40" rx="2.42" ry="2.85" fill="url(#gb)"/>
<polyline points="69.00,495.20 117.25,494.60 165.50,494.60 213.75,494.60 262.00,494.60" fill="none" stroke="#1414f0" stroke-width="1.4" stroke-linejoin="round"/>
<ellipse cx="69.00" cy="495.20" rx="2.42" ry="2.85" fill="url(#gb)"/>
<ellipse cx="117.25" cy="494.60" rx="2.42" ry="2.85" fill="url(#gb)"/>
<ellipse cx="165.50" cy="494.60" rx="2.42" ry="2.85" fill="url(#gb)"/>
<ellipse cx="213.75" cy="494.60" rx="2.42" ry="2.85" fill="url(#gb)"/>
<ellipse cx="262.00" cy="494.60" rx="2.42" ry="2.85" fill="url(#gb)"/>
<polyline points="69.00,518.00 117.25,503.00 165.50,503.20 213.75,503.40 262.00,503.40" fill="none" stroke="#1414f0" stroke-width="1.4" stroke-linejoin="round"/>
<ellipse cx="69.00" cy="518.00" rx="2.42" ry="2.85" fill="url(#gb)"/>
<ellipse cx="117.25" cy="503.00" rx="2.42" ry="2.85" fill="url(#gb)"/>
<ellipse cx="165.50" cy="503.20" rx="2.42" ry="2.85" fill="url(#gb)"/>
<ellipse cx="213.75" cy="503.40" rx="2.42" ry="2.85" fill="url(#gb)"/>
<ellipse cx="262.00" cy="503.40" rx="2.42" ry="2.85" fill="url(#gb)"/>
<polyline points="69.00,529.00 117.25,512.00 165.50,510.40 213.75,510.60 262.00,510.60" fill="none" stroke="#1414f0" stroke-width="1.4" stroke-linejoin="round"/>
<ellipse cx="69.00" cy="529.00" rx="2.42" ry="2.85" fill="url(#gb)"/>
<ellipse cx="117.25" cy="512.00" rx="2.42" ry="2.85" fill="url(#gb)"/>
<ellipse cx="165.50" cy="510.40" rx="2.42" ry="2.85" fill="url(#gb)"/>
<ellipse cx="213.75" cy="510.60" rx="2.42" ry="2.85" fill="url(#gb)"/>
<ellipse cx="262.00" cy="510.60" rx="2.42" ry="2.85" fill="url(#gb)"/>
<line x1="136.40" y1="530.60" x2="129.58" y2="384.89" stroke="#f20000" stroke-width="1.5"/>
<polygon points="129.00,372.40 132.33,385.76 126.93,386.01" fill="#f20000"/>
<line x1="398.60" y1="345.50" x2="636.00" y2="345.50" stroke="#333" stroke-width="1.2"/>
<line x1="398.60" y1="584.00" x2="636.00" y2="584.00" stroke="#333" stroke-width="1.2"/>
<line x1="398.60" y1="344.90" x2="398.60" y2="584.60" stroke="#333" stroke-width="1.2"/>
<line x1="636.00" y1="345.50" x2="636.00" y2="584.60" stroke="#4545f0" stroke-width="1.1"/>
<line x1="422.40" y1="584.00" x2="422.40" y2="588.50" stroke="#333" stroke-width="1.1"/>
<line x1="422.40" y1="345.50" x2="422.40" y2="350.00" stroke="#333" stroke-width="1.1"/>
<line x1="469.80" y1="584.00" x2="469.80" y2="588.50" stroke="#333" stroke-width="1.1"/>
<line x1="469.80" y1="345.50" x2="469.80" y2="350.00" stroke="#333" stroke-width="1.1"/>
<line x1="517.20" y1="584.00" x2="517.20" y2="588.50" stroke="#333" stroke-width="1.1"/>
<line x1="517.20" y1="345.50" x2="517.20" y2="350.00" stroke="#333" stroke-width="1.1"/>
<line x1="564.60" y1="584.00" x2="564.60" y2="588.50" stroke="#333" stroke-width="1.1"/>
<line x1="564.60" y1="345.50" x2="564.60" y2="350.00" stroke="#333" stroke-width="1.1"/>
<line x1="612.00" y1="584.00" x2="612.00" y2="588.50" stroke="#333" stroke-width="1.1"/>
<line x1="612.00" y1="345.50" x2="612.00" y2="350.00" stroke="#333" stroke-width="1.1"/>
<line x1="398.70" y1="584.00" x2="398.70" y2="586.50" stroke="#333" stroke-width="1.1"/>
<line x1="398.70" y1="345.50" x2="398.70" y2="348.00" stroke="#333" stroke-width="1.1"/>
<line x1="446.10" y1="584.00" x2="446.10" y2="586.50" stroke="#333" stroke-width="1.1"/>
<line x1="446.10" y1="345.50" x2="446.10" y2="348.00" stroke="#333" stroke-width="1.1"/>
<line x1="493.50" y1="584.00" x2="493.50" y2="586.50" stroke="#333" stroke-width="1.1"/>
<line x1="493.50" y1="345.50" x2="493.50" y2="348.00" stroke="#333" stroke-width="1.1"/>
<line x1="540.90" y1="584.00" x2="540.90" y2="586.50" stroke="#333" stroke-width="1.1"/>
<line x1="540.90" y1="345.50" x2="540.90" y2="348.00" stroke="#333" stroke-width="1.1"/>
<line x1="588.30" y1="584.00" x2="588.30" y2="586.50" stroke="#333" stroke-width="1.1"/>
<line x1="588.30" y1="345.50" x2="588.30" y2="348.00" stroke="#333" stroke-width="1.1"/>
<line x1="635.70" y1="584.00" x2="635.70" y2="586.50" stroke="#333" stroke-width="1.1"/>
<line x1="635.70" y1="345.50" x2="635.70" y2="348.00" stroke="#333" stroke-width="1.1"/>
<line x1="394.60" y1="345.50" x2="398.60" y2="345.50" stroke="#333" stroke-width="1.1"/>
<text transform="translate(393.00,348.80) scale(0.76,1)" font-size="11" fill="#2a2a2a" text-anchor="end" font-weight="normal" stroke="#2a2a2a" stroke-width="0.35">24,0</text>
<line x1="394.60" y1="425.00" x2="398.60" y2="425.00" stroke="#333" stroke-width="1.1"/>
<text transform="translate(393.00,428.30) scale(0.76,1)" font-size="11" fill="#2a2a2a" text-anchor="end" font-weight="normal" stroke="#2a2a2a" stroke-width="0.35">23,5</text>
<line x1="394.60" y1="504.50" x2="398.60" y2="504.50" stroke="#333" stroke-width="1.1"/>
<text transform="translate(393.00,507.80) scale(0.76,1)" font-size="11" fill="#2a2a2a" text-anchor="end" font-weight="normal" stroke="#2a2a2a" stroke-width="0.35">23,0</text>
<line x1="394.60" y1="584.00" x2="398.60" y2="584.00" stroke="#333" stroke-width="1.1"/>
<text transform="translate(393.00,587.30) scale(0.76,1)" font-size="11" fill="#2a2a2a" text-anchor="end" font-weight="normal" stroke="#2a2a2a" stroke-width="0.35">22,5</text>
<line x1="396.60" y1="385.25" x2="398.60" y2="385.25" stroke="#333" stroke-width="1.1"/>
<line x1="396.60" y1="464.75" x2="398.60" y2="464.75" stroke="#333" stroke-width="1.1"/>
<line x1="396.60" y1="544.25" x2="398.60" y2="544.25" stroke="#333" stroke-width="1.1"/>
<line x1="636.00" y1="364.40" x2="640.00" y2="364.40" stroke="#4545f0" stroke-width="1.1"/>
<text transform="translate(641.50,368.40) scale(0.76,1)" font-size="11" fill="#2b2bdc" text-anchor="start" font-weight="normal" stroke="#2b2bdc" stroke-width="0.2">1,32</text>
<line x1="636.00" y1="402.50" x2="640.00" y2="402.50" stroke="#4545f0" stroke-width="1.1"/>
<text transform="translate(641.50,406.50) scale(0.76,1)" font-size="11" fill="#2b2bdc" text-anchor="start" font-weight="normal" stroke="#2b2bdc" stroke-width="0.2">1,30</text>
<line x1="636.00" y1="440.60" x2="640.00" y2="440.60" stroke="#4545f0" stroke-width="1.1"/>
<text transform="translate(641.50,444.60) scale(0.76,1)" font-size="11" fill="#2b2bdc" text-anchor="start" font-weight="normal" stroke="#2b2bdc" stroke-width="0.2">1,28</text>
<line x1="636.00" y1="478.70" x2="640.00" y2="478.70" stroke="#4545f0" stroke-width="1.1"/>
<text transform="translate(641.50,482.70) scale(0.76,1)" font-size="11" fill="#2b2bdc" text-anchor="start" font-weight="normal" stroke="#2b2bdc" stroke-width="0.2">1,26</text>
<line x1="636.00" y1="516.80" x2="640.00" y2="516.80" stroke="#4545f0" stroke-width="1.1"/>
<text transform="translate(641.50,520.80) scale(0.76,1)" font-size="11" fill="#2b2bdc" text-anchor="start" font-weight="normal" stroke="#2b2bdc" stroke-width="0.2">1,24</text>
<line x1="636.00" y1="554.90" x2="640.00" y2="554.90" stroke="#4545f0" stroke-width="1.1"/>
<text transform="translate(641.50,558.90) scale(0.76,1)" font-size="11" fill="#2b2bdc" text-anchor="start" font-weight="normal" stroke="#2b2bdc" stroke-width="0.2">1,22</text>
<line x1="636.00" y1="383.45" x2="638.00" y2="383.45" stroke="#4545f0" stroke-width="1.1"/>
<line x1="636.00" y1="421.55" x2="638.00" y2="421.55" stroke="#4545f0" stroke-width="1.1"/>
<line x1="636.00" y1="459.65" x2="638.00" y2="459.65" stroke="#4545f0" stroke-width="1.1"/>
<line x1="636.00" y1="497.75" x2="638.00" y2="497.75" stroke="#4545f0" stroke-width="1.1"/>
<line x1="636.00" y1="535.85" x2="638.00" y2="535.85" stroke="#4545f0" stroke-width="1.1"/>
<line x1="636.00" y1="573.95" x2="638.00" y2="573.95" stroke="#4545f0" stroke-width="1.1"/>
<text transform="translate(422.40,600.10) scale(0.76,1)" font-size="11" fill="#2a2a2a" text-anchor="middle" font-weight="normal" stroke="#2a2a2a" stroke-width="0.35">0,02</text>
<text transform="translate(469.80,600.10) scale(0.76,1)" font-size="11" fill="#2a2a2a" text-anchor="middle" font-weight="normal" stroke="#2a2a2a" stroke-width="0.35">0,04</text>
<text transform="translate(517.20,600.10) scale(0.76,1)" font-size="11" fill="#2a2a2a" text-anchor="middle" font-weight="normal" stroke="#2a2a2a" stroke-width="0.35">0,06</text>
<text transform="translate(564.60,600.10) scale(0.76,1)" font-size="11" fill="#2a2a2a" text-anchor="middle" font-weight="normal" stroke="#2a2a2a" stroke-width="0.35">0,08</text>
<text transform="translate(612.00,600.10) scale(0.76,1)" font-size="11" fill="#2a2a2a" text-anchor="middle" font-weight="normal" stroke="#2a2a2a" stroke-width="0.35">0,10</text>
<text transform="translate(370.80,465.00) scale(0.83,1) rotate(-90)" font-size="12.6" fill="#2a2a2a" text-anchor="middle" font-weight="normal" stroke="#2a2a2a" stroke-width="0.2">Jsc (mA/cm<tspan dy="-6.3" font-size="8.8">2</tspan><tspan dy="6.3">)</tspan></text>
<text transform="translate(669.40,463.20) scale(0.78,1) rotate(-90)" font-size="12.65" fill="#2b2bdc" text-anchor="middle" font-weight="normal" stroke="#2b2bdc" stroke-width="0.4">Voc (V)</text>
<text transform="translate(405.20,364.30) scale(0.79,1)" font-size="13" fill="#2a2a2a" text-anchor="start" font-weight="normal" stroke="#2a2a2a" stroke-width="0.3">(d)</text>
<text transform="translate(517.3,619.7) scale(0.745,1)" font-size="13.3" fill="#2a2a2a" stroke="#2a2a2a" stroke-width="0.25" text-anchor="middle">CZTS thickness (µm)</text>
<text transform="translate(464.40,543.00) scale(0.755,1)" font-size="13.0" fill="#2a2a2a" stroke="#2a2a2a" stroke-width="0.25"><tspan dy="0.00" font-size="13.00">N</tspan><tspan dy="3.64" font-size="9.36">A</tspan><tspan dy="-3.64" font-size="13.00">=5x10</tspan><tspan dy="-5.85" font-size="8.84">17</tspan><tspan dy="5.85" font-size="13.00"> cm</tspan><tspan dy="-5.85" font-size="8.84">-3</tspan><tspan dy="5.85" font-size="13.00"> to 5x10</tspan><tspan dy="-5.85" font-size="8.84">19</tspan><tspan dy="5.85" font-size="13.00">cm</tspan><tspan dy="-5.85" font-size="8.84">-3</tspan></text>
<polyline points="422.40,378.40 469.80,379.40 517.20,380.00 564.60,380.80 612.00,381.40" fill="none" stroke="#1c1c1c" stroke-width="1.4" stroke-linejoin="round"/>
<ellipse cx="422.40" cy="378.40" rx="2.42" ry="2.85" fill="url(#gk)"/>
<ellipse cx="469.80" cy="379.40" rx="2.42" ry="2.85" fill="url(#gk)"/>
<ellipse cx="517.20" cy="380.00" rx="2.42" ry="2.85" fill="url(#gk)"/>
<ellipse cx="564.60" cy="380.80" rx="2.42" ry="2.85" fill="url(#gk)"/>
<ellipse cx="612.00" cy="381.40" rx="2.42" ry="2.85" fill="url(#gk)"/>
<polyline points="422.40,392.40 469.80,393.30 517.20,394.40 564.60,395.20 612.00,395.60" fill="none" stroke="#1c1c1c" stroke-width="1.4" stroke-linejoin="round"/>
<ellipse cx="422.40" cy="392.40" rx="2.42" ry="2.85" fill="url(#gk)"/>
<ellipse cx="469.80" cy="393.30" rx="2.42" ry="2.85" fill="url(#gk)"/>
<ellipse cx="517.20" cy="394.40" rx="2.42" ry="2.85" fill="url(#gk)"/>
<ellipse cx="564.60" cy="395.20" rx="2.42" ry="2.85" fill="url(#gk)"/>
<ellipse cx="612.00" cy="395.60" rx="2.42" ry="2.85" fill="url(#gk)"/>
<polyline points="422.40,399.20 469.80,400.00 517.20,401.00 564.60,401.50 612.00,402.00" fill="none" stroke="#1c1c1c" stroke-width="1.4" stroke-linejoin="round"/>
<ellipse cx="422.40" cy="399.20" rx="2.42" ry="2.85" fill="url(#gk)"/>
<ellipse cx="469.80" cy="400.00" rx="2.42" ry="2.85" fill="url(#gk)"/>
<ellipse cx="517.20" cy="401.00" rx="2.42" ry="2.85" fill="url(#gk)"/>
<ellipse cx="564.60" cy="401.50" rx="2.42" ry="2.85" fill="url(#gk)"/>
<ellipse cx="612.00" cy="402.00" rx="2.42" ry="2.85" fill="url(#gk)"/>
<polyline points="422.40,432.80 469.80,416.60 517.20,417.40 564.60,417.80 612.00,418.00" fill="none" stroke="#1c1c1c" stroke-width="1.4" stroke-linejoin="round"/>
<ellipse cx="422.40" cy="432.80" rx="2.42" ry="2.85" fill="url(#gk)"/>
<ellipse cx="469.80" cy="416.60" rx="2.42" ry="2.85" fill="url(#gk)"/>
<ellipse cx="517.20" cy="417.40" rx="2.42" ry="2.85" fill="url(#gk)"/>
<ellipse cx="564.60" cy="417.80" rx="2.42" ry="2.85" fill="url(#gk)"/>
<ellipse cx="612.00" cy="418.00" rx="2.42" ry="2.85" fill="url(#gk)"/>
<polyline points="422.40,453.40 469.80,424.80 517.20,424.00 564.60,424.50 612.00,425.00" fill="none" stroke="#1c1c1c" stroke-width="1.4" stroke-linejoin="round"/>
<ellipse cx="422.40" cy="453.40" rx="2.42" ry="2.85" fill="url(#gk)"/>
<ellipse cx="469.80" cy="424.80" rx="2.42" ry="2.85" fill="url(#gk)"/>
<ellipse cx="517.20" cy="424.00" rx="2.42" ry="2.85" fill="url(#gk)"/>
<ellipse cx="564.60" cy="424.50" rx="2.42" ry="2.85" fill="url(#gk)"/>
<ellipse cx="612.00" cy="425.00" rx="2.42" ry="2.85" fill="url(#gk)"/>
<polyline points="422.40,467.40 469.80,467.50 517.20,467.50 564.60,467.40 612.00,467.40" fill="none" stroke="#1414f0" stroke-width="1.4" stroke-linejoin="round"/>
<ellipse cx="422.40" cy="467.40" rx="2.42" ry="2.85" fill="url(#gb)"/>
<ellipse cx="469.80" cy="467.50" rx="2.42" ry="2.85" fill="url(#gb)"/>
<ellipse cx="517.20" cy="467.50" rx="2.42" ry="2.85" fill="url(#gb)"/>
<ellipse cx="564.60" cy="467.40" rx="2.42" ry="2.85" fill="url(#gb)"/>
<ellipse cx="612.00" cy="467.40" rx="2.42" ry="2.85" fill="url(#gb)"/>
<polyline points="422.40,478.00 469.80,478.00 517.20,478.00 564.60,478.00 612.00,478.00" fill="none" stroke="#1414f0" stroke-width="1.4" stroke-linejoin="round"/>
<ellipse cx="422.40" cy="478.00" rx="2.42" ry="2.85" fill="url(#gb)"/>
<ellipse cx="469.80" cy="478.00" rx="2.42" ry="2.85" fill="url(#gb)"/>
<ellipse cx="517.20" cy="478.00" rx="2.42" ry="2.85" fill="url(#gb)"/>
<ellipse cx="564.60" cy="478.00" rx="2.42" ry="2.85" fill="url(#gb)"/>
<ellipse cx="612.00" cy="478.00" rx="2.42" ry="2.85" fill="url(#gb)"/>
<polyline points="422.40,484.00 469.80,483.50 517.20,484.00 564.60,484.00 612.00,484.00" fill="none" stroke="#1414f0" stroke-width="1.4" stroke-linejoin="round"/>
<ellipse cx="422.40" cy="484.00" rx="2.42" ry="2.85" fill="url(#gb)"/>
<ellipse cx="469.80" cy="483.50" rx="2.42" ry="2.85" fill="url(#gb)"/>
<ellipse cx="517.20" cy="484.00" rx="2.42" ry="2.85" fill="url(#gb)"/>
<ellipse cx="564.60" cy="484.00" rx="2.42" ry="2.85" fill="url(#gb)"/>
<ellipse cx="612.00" cy="484.00" rx="2.42" ry="2.85" fill="url(#gb)"/>
<polyline points="422.40,513.60 469.80,505.00 517.20,505.00 564.60,505.20 612.00,505.20" fill="none" stroke="#1414f0" stroke-width="1.4" stroke-linejoin="round"/>
<ellipse cx="422.40" cy="513.60" rx="2.42" ry="2.85" fill="url(#gb)"/>
<ellipse cx="469.80" cy="505.00" rx="2.42" ry="2.85" fill="url(#gb)"/>
<ellipse cx="517.20" cy="505.00" rx="2.42" ry="2.85" fill="url(#gb)"/>
<ellipse cx="564.60" cy="505.20" rx="2.42" ry="2.85" fill="url(#gb)"/>
<ellipse cx="612.00" cy="505.20" rx="2.42" ry="2.85" fill="url(#gb)"/>
<polyline points="422.40,533.00 469.80,512.40 517.20,511.60 564.60,511.60 612.00,511.60" fill="none" stroke="#1414f0" stroke-width="1.4" stroke-linejoin="round"/>
<ellipse cx="422.40" cy="533.00" rx="2.42" ry="2.85" fill="url(#gb)"/>
<ellipse cx="469.80" cy="512.40" rx="2.42" ry="2.85" fill="url(#gb)"/>
<ellipse cx="517.20" cy="511.60" rx="2.42" ry="2.85" fill="url(#gb)"/>
<ellipse cx="564.60" cy="511.60" rx="2.42" ry="2.85" fill="url(#gb)"/>
<ellipse cx="612.00" cy="511.60" rx="2.42" ry="2.85" fill="url(#gb)"/>
<line x1="488.00" y1="525.00" x2="480.06" y2="375.48" stroke="#f20000" stroke-width="1.5"/>
<polygon points="479.40,363.00 482.81,376.34 477.42,376.62" fill="#f20000"/>
</svg>
</body></html>
